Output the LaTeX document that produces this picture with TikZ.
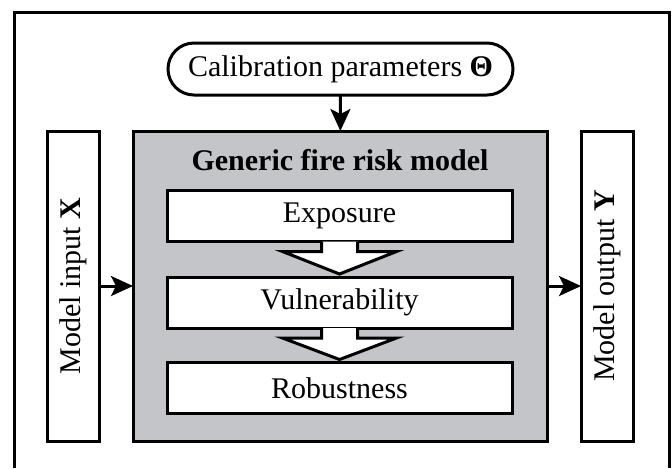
\documentclass[tikz,border=0pt]{standalone}
\usepackage{fontspec}
\setmainfont{Liberation Serif}
\usetikzlibrary{arrows.meta,calc}
\definecolor{modelgray}{RGB}{196,197,201}

\tikzset{
    txt/.style={font=\fontsize{15}{18}\selectfont},
    box/.style={txt, draw, line width=1.5pt, fill=white, inner sep=0pt, outer sep=0pt},
    stage/.style={box, minimum width=172.5pt, minimum height=25.5pt},
    side/.style={box, minimum width=26pt, minimum height=155pt},
    flow/.style={line width=1.5pt, -{Stealth[length=11pt,width=10pt,inset=2.5pt]}},
    blockarrow/.style={draw, line width=1.5pt, fill=white, line join=miter}
}

\begin{document}
\begin{tikzpicture}[x=0.5pt,y=-0.5pt]

    \useasboundingbox (0,0) rectangle (672,468);
    \draw[line width=1.5pt] (14.7,468) -- (14.7,12.5) -- (669,12.5) -- (669,468);

    \node[box, minimum width=172.5pt, minimum height=26pt, rounded corners=13pt] (calib) at (340.5,69) {Calibration parameters \textbf{Θ}};

    \node[box, fill=modelgray, minimum width=207pt, minimum height=155pt] (model) at (340,286) {};
    \node[txt, font=\fontsize{15}{18}\selectfont\bfseries] (title) at (340,160) {Generic fire risk model};

    \node[stage] (expo) at (339.5,216) {Exposure};
    \node[stage] (vuln) at (339.5,302.5) {Vulnerability};
    \node[stage] (robu) at (339.5,388) {Robustness};

    \node[side] (input) at (73,286) {};
    \node[txt, rotate=90] at (input) {Model input \textbf{X}};
    \node[side] (output) at (607,286) {};
    \node[txt, rotate=90] at (output) {Model output \textbf{Y}};

    \foreach \a/\b in {expo/vuln, vuln/robu}
        \path[blockarrow] ($(\a.south)+(-18,0)$) -- ++(0,10) -- ++(-39,0)
            -- ($(\b.north)+(0,-3)$) -- ($(\a.south)+(57,10)$) -- ++(-39,0) -- ($(\a.south)+(18,0)$);

    \draw[flow] (calib) -- (model);
    \draw[flow] (input) -- (model);
    \draw[flow] (model) -- (output);

\end{tikzpicture}
\end{document}
